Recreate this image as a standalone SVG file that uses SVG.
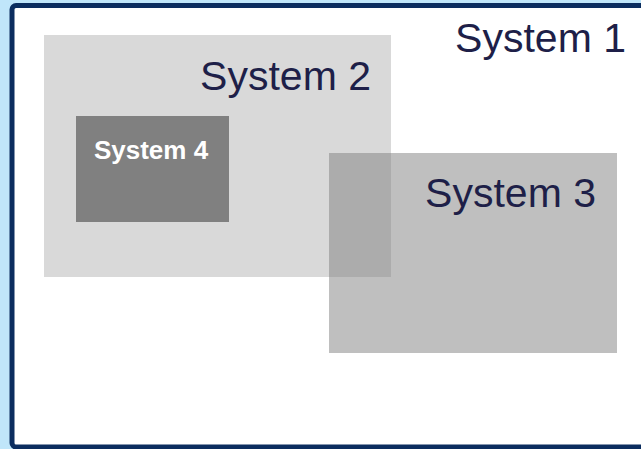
<svg xmlns="http://www.w3.org/2000/svg" width="641" height="449" viewBox="0 0 641 449">
<style>
.lbl{font-family:"Liberation Sans",Arial,sans-serif;font-size:41px;fill:#1e1f48}
.lbl4{font-family:"Liberation Sans",Arial,sans-serif;font-size:26px;font-weight:bold;fill:#ffffff}
</style>
<rect x="0" y="0" width="641" height="449" fill="#c0e6fa"/>
<g id="system1">
<rect x="12" y="5.5" width="650" height="441.5" rx="4" fill="#ffffff" stroke="#0b2d5f" stroke-width="5"/>
<text class="lbl" x="626" y="52" text-anchor="end">System 1</text>
</g>
<g id="system2">
<rect x="44" y="35" width="347" height="242" fill="#d9d9d9"/>
<text class="lbl" x="371" y="90" text-anchor="end">System 2</text>
</g>
<g id="system4">
<rect x="76" y="116" width="153" height="106" fill="#808080"/>
<text class="lbl4" x="151" y="159" text-anchor="middle">System 4</text>
</g>
<g id="system3">
<rect x="329" y="153" width="288" height="200" fill="#808080" fill-opacity="0.5"/>
<text class="lbl" x="596" y="207" text-anchor="end">System 3</text>
</g>
<g id="connectors"/>
</svg>
